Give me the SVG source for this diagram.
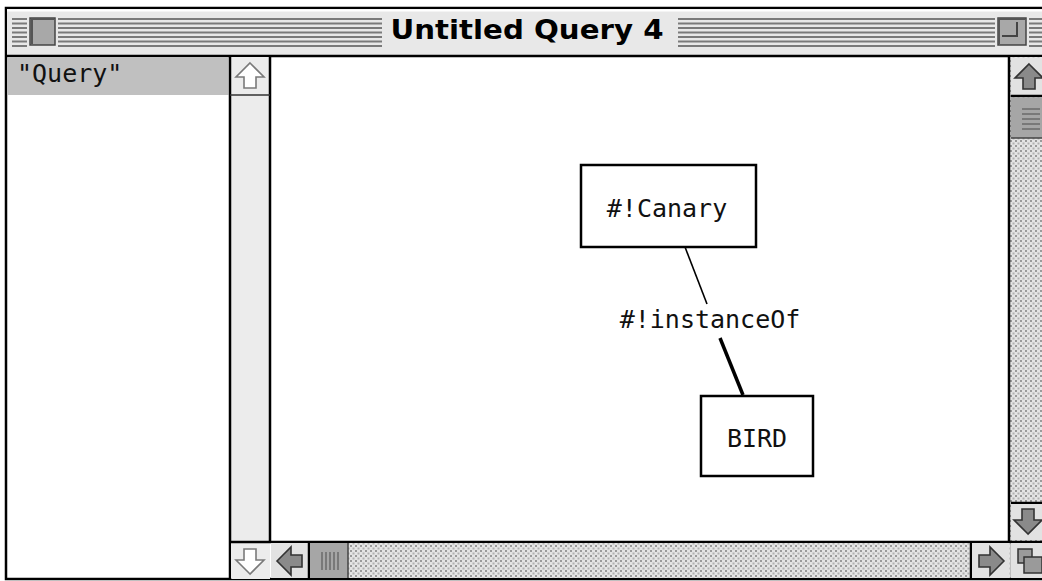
<svg xmlns="http://www.w3.org/2000/svg" width="1042" height="581" viewBox="0 0 1042 581">
<style>
.lbl{font-family:"DejaVu Sans Mono","Liberation Mono",monospace;font-size:25px;fill:#111}
.node{fill:#fff;stroke:#000;stroke-width:2.5}
.stripe{stroke:#7a7a7a;stroke-width:2}
.garrow{fill:#8a8a8a;stroke:#333;stroke-width:1.6}
.warrow{fill:#fff;stroke:#7a7a7a;stroke-width:1.6}
.bl{stroke:#000;stroke-width:2.5}
</style>
<defs>
<pattern id="dots" width="5" height="5" patternUnits="userSpaceOnUse">
<rect width="5" height="5" fill="#e4e4e4"/>
<rect x="0" y="0" width="2" height="2" fill="#9a9a9a"/>
<rect x="2.5" y="2.5" width="2" height="2" fill="#b0b0b0"/>
</pattern>
<path id="arr" d="M0,-13 L14,1 L6,1 L6,12 L-6,12 L-6,1 L-14,1 Z"/>
</defs>

<!-- window frame -->
<rect x="0" y="0" width="1042" height="581" fill="#fff"/>
<rect x="6" y="8" width="1040" height="571" fill="#fff" stroke="#000" stroke-width="2.5"/>

<!-- title bar -->
<g id="titlebar">
<rect x="7" y="9" width="1035" height="46" fill="#e8e8e8"/>
<line x1="7" y1="10.5" x2="1042" y2="10.5" stroke="#fff" stroke-width="2"/>
<g class="stripe">
<line x1="12" y1="19" x2="1042" y2="19"/>
<line x1="12" y1="23.5" x2="1042" y2="23.5"/>
<line x1="12" y1="28" x2="1042" y2="28"/>
<line x1="12" y1="32.5" x2="1042" y2="32.5"/>
<line x1="12" y1="37" x2="1042" y2="37"/>
<line x1="12" y1="41.5" x2="1042" y2="41.5"/>
<line x1="12" y1="46" x2="1042" y2="46"/>
</g>
<rect x="382" y="14" width="296" height="36" fill="#e8e8e8"/>
<text x="527" y="39" text-anchor="middle" font-family="'DejaVu Sans','Liberation Sans',sans-serif" font-weight="bold" font-size="27" textLength="273" lengthAdjust="spacingAndGlyphs">Untitled Query 4</text>
<!-- close box -->
<rect x="27" y="16" width="31" height="32" fill="#e8e8e8"/>
<rect x="30" y="18" width="25" height="27" fill="#a8a8a8" stroke="#444" stroke-width="1.5"/>
<path d="M32,44 L32,19 L54,19" fill="none" stroke="#555" stroke-width="2"/>
<!-- zoom box -->
<rect x="995" y="16" width="34" height="32" fill="#e8e8e8"/>
<rect x="998" y="18" width="28" height="27" fill="#a8a8a8" stroke="#444" stroke-width="1.5"/>
<path d="M999,44 L999,19 L1025,19" fill="none" stroke="#555" stroke-width="2"/>
<path d="M1002,36 L1017,36 L1017,22" fill="none" stroke="#444" stroke-width="2"/>
<line x1="7" y1="56" x2="1042" y2="56" class="bl"/>
</g>

<!-- left panel -->
<g id="query-list">
<rect x="7.5" y="57" width="221" height="38" fill="#c0c0c0"/>
<text x="17" y="82" class="lbl" font-size="24">"Query"</text>
</g>

<!-- left panel scrollbar -->
<g id="left-scroll">
<rect x="230" y="57" width="40" height="522" fill="#ececec"/>
<line x1="230" y1="57" x2="230" y2="579" class="bl"/>
<line x1="270" y1="57" x2="270" y2="542" class="bl"/>
<line x1="230" y1="95" x2="270" y2="95" stroke="#333" stroke-width="1.5"/>
<use href="#arr" class="warrow" transform="translate(250,76)"/>
<rect x="231" y="543" width="38" height="35" fill="#ececec"/>
<use href="#arr" class="warrow" transform="translate(250,561) rotate(180)"/>
</g>

<!-- right scrollbar -->
<g id="right-scroll">
<rect x="1010" y="57" width="32" height="485" fill="url(#dots)"/>
<line x1="1009" y1="57" x2="1009" y2="579" class="bl"/>
<rect x="1011" y="58" width="31" height="37" fill="#e2e2e2"/>
<line x1="1011" y1="96" x2="1042" y2="96" class="bl"/>
<use href="#arr" class="garrow" transform="translate(1029,77)"/>
<rect x="1011" y="98" width="31" height="40" fill="#a6a6a6"/>
<line x1="1011" y1="138" x2="1042" y2="138" stroke="#444" stroke-width="1.5"/>
<g stroke="#6a6a6a" stroke-width="1.5">
<line x1="1022" y1="109" x2="1040" y2="109"/>
<line x1="1022" y1="114" x2="1040" y2="114"/>
<line x1="1022" y1="119" x2="1040" y2="119"/>
<line x1="1022" y1="124" x2="1040" y2="124"/>
<line x1="1022" y1="129" x2="1040" y2="129"/>
</g>
<line x1="1011" y1="503" x2="1042" y2="503" class="bl"/>
<rect x="1011" y="504" width="31" height="36" fill="#e2e2e2"/>
<use href="#arr" class="garrow" transform="translate(1028,521) rotate(180)"/>
</g>

<!-- bottom scrollbar -->
<g id="bottom-scroll">
<line x1="230" y1="542" x2="1042" y2="542" class="bl"/>
<rect x="271" y="543" width="739" height="35" fill="url(#dots)"/>
<rect x="271" y="543" width="37" height="35" fill="#e2e2e2"/>
<line x1="309" y1="543" x2="309" y2="578" class="bl"/>
<use href="#arr" class="garrow" transform="translate(290,561) rotate(-90)"/>
<rect x="310" y="543" width="38" height="35" fill="#a6a6a6"/>
<line x1="348" y1="543" x2="348" y2="578" stroke="#444" stroke-width="1.5"/>
<g stroke="#6a6a6a" stroke-width="1.5">
<line x1="322" y1="552" x2="322" y2="570"/>
<line x1="326" y1="552" x2="326" y2="570"/>
<line x1="330" y1="552" x2="330" y2="570"/>
<line x1="334" y1="552" x2="334" y2="570"/>
<line x1="338" y1="552" x2="338" y2="570"/>
</g>
<line x1="971" y1="543" x2="971" y2="578" class="bl"/>
<rect x="972" y="543" width="37" height="35" fill="#e2e2e2"/>
<use href="#arr" class="garrow" transform="translate(991,561) rotate(90)"/>
<rect x="1011" y="543" width="31" height="35" fill="#e2e2e2"/>
<rect x="1018" y="549" width="14" height="14" fill="#9a9a9a" stroke="#333" stroke-width="1.5"/>
<rect x="1024" y="557" width="18" height="16" fill="#9a9a9a" stroke="#333" stroke-width="1.5"/>
</g>

<!-- connectors -->
<g id="connectors">
<line x1="685" y1="247" x2="707" y2="304" stroke="#000" stroke-width="1.6"/>
<line x1="720" y1="338" x2="743" y2="395" stroke="#000" stroke-width="3.5"/>
<text x="710" y="328" class="lbl" text-anchor="middle">#!instanceOf</text>
</g>

<!-- nodes -->
<g id="node-canary">
<rect x="581" y="165" width="175" height="82" class="node"/>
<text x="667" y="217" class="lbl" text-anchor="middle">#!Canary</text>
</g>
<g id="node-bird">
<rect x="701" y="396" width="112" height="80" class="node"/>
<text x="757" y="447" class="lbl" text-anchor="middle" fill="#222">BIRD</text>
</g>
</svg>
